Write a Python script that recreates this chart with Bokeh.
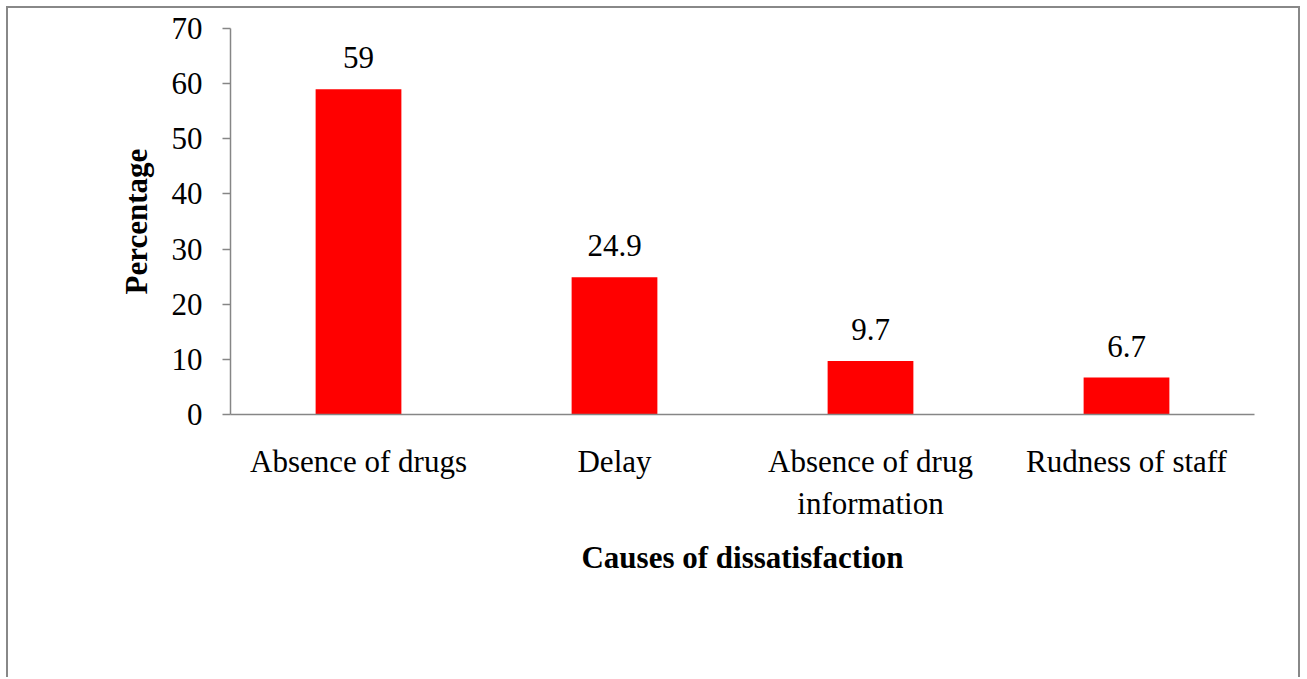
from bokeh.plotting import figure
from bokeh.models import ColumnDataSource, FactorRange, Range1d, LabelSet, FixedTicker
from bokeh.embed import file_html
from bokeh.resources import INLINE

categories = ["Absence of drugs", "Delay", "Absence of drug\ninformation", "Rudness of staff"]
values = [59, 24.9, 9.7, 6.7]
value_labels = ["59", "24.9", "9.7", "6.7"]
y_ticks = [0, 10, 20, 30, 40, 50, 60, 70]

FONT = "Liberation Serif"
FS = "31px"

src = ColumnDataSource(dict(cat=categories, val=values, lab=value_labels))

p = figure(width=1294, height=671, output_backend="svg", toolbar_location=None,
           x_range=FactorRange(factors=categories, range_padding=0),
           y_range=Range1d(0, 70),
           min_border_left=222, min_border_right=48, min_border_top=20, min_border_bottom=265)

p.styles = {"margin-left": "6px", "margin-top": "6px",
            "border-left": "2px solid #888888", "border-top": "2px solid #888888",
            "border-right": "2px solid #888888"}

p.vbar(x="cat", top="val", width=0.335, source=src, fill_color="#FF0000", line_color=None)

labels = LabelSet(x="cat", y="val", text="lab", source=src, text_align="center",
                  text_baseline="alphabetic", y_offset=21, text_font=FONT,
                  text_font_size=FS, text_color="black")
p.add_layout(labels)

p.xgrid.grid_line_color = None
p.ygrid.grid_line_color = None
p.outline_line_color = None
p.background_fill_color = "white"
p.border_fill_color = "white"

ax = p.yaxis[0]
ax.ticker = FixedTicker(ticks=y_ticks)
ax.axis_line_color = "#868686"
ax.axis_line_width = 1.5
ax.major_tick_line_color = "#868686"
ax.major_tick_line_width = 1.5
ax.major_tick_out = 8
ax.major_tick_in = 0
ax.minor_tick_line_color = None
ax.major_label_text_font = FONT
ax.major_label_text_font_size = FS
ax.major_label_text_color = "black"
ax.major_label_standoff = 20
ax.axis_label = "Percentage"
ax.axis_label_text_font = FONT
ax.axis_label_text_font_size = FS
ax.axis_label_text_font_style = "bold"
ax.axis_label_text_color = "black"
ax.axis_label_standoff = 15

xa = p.xaxis[0]
xa.axis_line_color = "#868686"
xa.axis_line_width = 1.5
xa.major_tick_line_color = None
xa.major_tick_out = 0
xa.major_tick_in = 0
xa.minor_tick_line_color = None
xa.major_label_text_font = FONT
xa.major_label_text_font_size = FS
xa.major_label_text_color = "black"
xa.major_label_standoff = 29
xa.axis_label = "Causes of dissatisfaction"
xa.axis_label_text_font = FONT
xa.axis_label_text_font_size = FS
xa.axis_label_text_font_style = "bold"
xa.axis_label_text_color = "black"
xa.axis_label_standoff = 16

open("out.html", "w").write(file_html(p, INLINE))
